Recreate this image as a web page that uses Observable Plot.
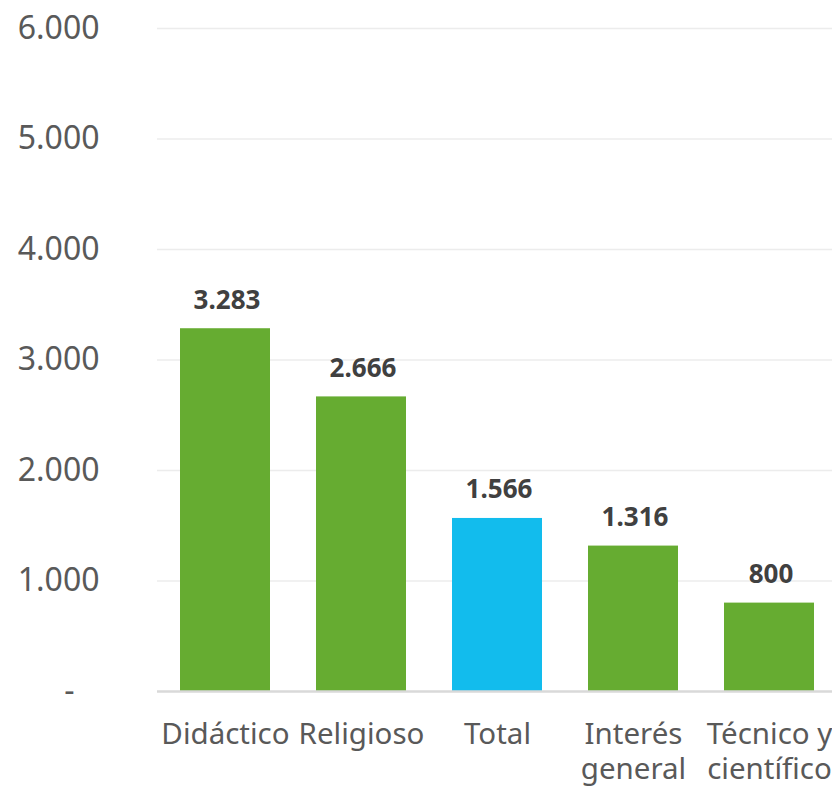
<!DOCTYPE html>
<html>
<head>
<meta charset="utf-8">
<script src="https://cdn.jsdelivr.net/npm/d3@7"></script>
<script src="https://cdn.jsdelivr.net/npm/@observablehq/plot@0.6"></script>
<style>
  html, body { margin: 0; padding: 0; background: #fff; overflow: hidden; width: 832px; height: 786px; }
  #chart svg { display: block; max-width: none !important; }
</style>
</head>
<body>
<div id="chart"></div>
<script>
const categories = ["Didáctico", "Religioso", "Total", "Interés\ngeneral", "Técnico y\ncientífico"];
const values = [3283, 2666, 1566, 1316, 800];
const highlight = ["Total"];
const yTicks = [0, 1000, 2000, 3000, 4000, 5000, 6000];

const data = categories.map((c, i) => ({cat: c, value: values[i], hi: highlight.includes(c)}));
const fmt = v => v === 0 ? "-\u00a0\u00a0\u00a0" : d3.format(",")(v).replace(/,/g, ".");

const font = "'Noto Sans', 'Open Sans', sans-serif";

const chart = Plot.plot({
  width: 837,
  height: 786,
  marginLeft: 157,
  marginRight: 0,
  marginTop: 28,
  marginBottom: 95,
  style: {fontFamily: font, background: "#fff", overflow: "visible", maxWidth: "none"},
  x: {domain: categories, paddingInner: 0.34, paddingOuter: 0.17, label: null},
  y: {domain: [0, 6000], label: null},
  marks: [
    Plot.gridY(yTicks.filter(d => d > 0), {stroke: "#ececec", strokeOpacity: 1, strokeWidth: 1.5}),
    Plot.axisY(yTicks, {tickSize: 0, tickPadding: 58, tickFormat: fmt, fontSize: 32, fill: "#595959", label: null}),
    Plot.barY(data, {x: "cat", y: "value", fill: d => d.hi ? "#12BCED" : "#66AC31"}),
    Plot.ruleY([0], {stroke: "#d9d9d9", strokeWidth: 2.5}),
    Plot.axisX({tickSize: 0, tickPadding: 28, fontSize: 29.5, fill: "#595959", lineHeight: 1.17, lineAnchor: "top", label: null}),
    Plot.text(data, {x: "cat", y: "value", text: d => fmt(d.value), dy: -20, dx: 1.5, lineAnchor: "bottom",
      fontSize: 26, fontWeight: "bold", fill: "#404040", ariaLabel: "value labels"})
  ]
});
chart.querySelectorAll('g[aria-label="value labels"] text').forEach(t => t.setAttribute("letter-spacing", "3"));
document.getElementById("chart").appendChild(chart);
</script>
</body>
</html>
